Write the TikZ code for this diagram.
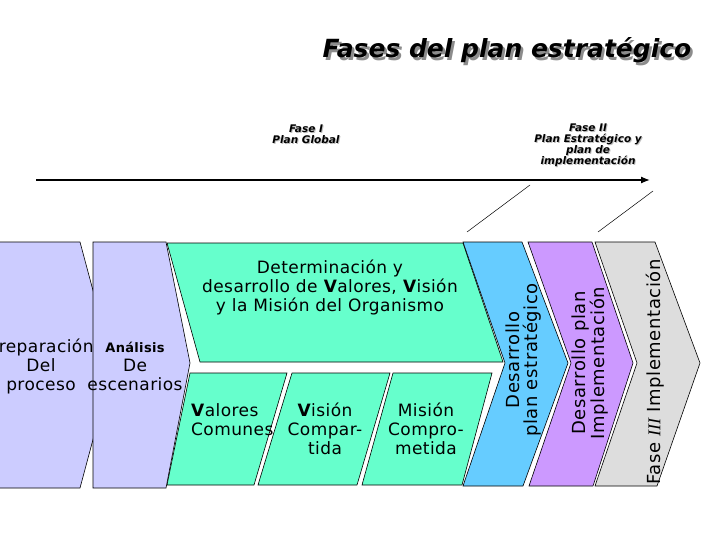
\documentclass[tikz,border=0pt]{standalone}
\usepackage{fontspec}
\setmainfont{DejaVu Sans}
\newfontfamily\romit{Liberation Serif}
\usetikzlibrary{arrows.meta}
\newcommand{\txt}       {\fontsize{17}{19}\selectfont\addfontfeatures{LetterSpace=2.5}}
\newcommand{\txtvert}   {\fontsize{18}{18}\selectfont\addfontfeatures{LetterSpace=3}}
\newcommand{\txtfase}   {\fontsize{10.5}{11}\selectfont\bfseries\itshape}
\newcommand{\txttit}    {\fontsize{25}{25}\selectfont\bfseries\itshape}
\definecolor{lila}{HTML}{CCCCFF}
\definecolor{verde}{HTML}{66FFCC}
\definecolor{azul}{HTML}{66CCFF}
\definecolor{morado}{HTML}{CC99FF}
\definecolor{gris}{HTML}{DDDDDD}

\begin{document}
\begin{tikzpicture}[x=1pt,y=-1pt,
   forma/.style={draw=black,line width=0.6pt},
   texto/.style={font=\txt,align=center,inner sep=0pt},
   vertical/.style={font=\txtvert,align=center,inner sep=0pt,rotate=90},
   fase/.style={font=\txtfase,align=center,inner sep=0pt}]
   \useasboundingbox (0,0) rectangle (720,540);
   \clip (0,0) rectangle (720,540);
   \fill[white] (0,0) rectangle (720,540);
   \node[font=\txttit,text=black!45,anchor=base] at (509.5,60.5) {Fases del plan estratégico};
   \node (titulo) [font=\txttit,anchor=base] at (507,58) {Fases del plan estratégico};
   \node[fase,anchor=north,text=black!25] at (307,126) {Fase I\\Plan Global};
   \node (fase1) [fase,anchor=north] at (306,125) {Fase I\\Plan Global};
   \node[fase,anchor=north,text=black!25] at (589,125) {Fase II\\Plan Estratégico y\\plan de\\implementación};
   \node (fase2) [fase,anchor=north] at (588,124) {Fase II\\Plan Estratégico y\\plan de\\implementación};
   \coordinate (ini) at (36,180);
   \coordinate (medio) at (445,180);
   \coordinate (fin) at (650,180);
   \draw[line width=2pt] (ini) -- (medio);
   \draw[line width=1.3pt,-{Latex[length=9pt,width=7pt]}] (medio) -- (fin);
   \draw[line width=0.5pt] (467,232) -- (530,185);
   \draw[line width=0.5pt] (598,232) -- (653,191);
   \filldraw[forma,fill=verde] (167,243) -- (463,243) -- (503,362) -- (200,362) -- cycle;
   \filldraw[forma,fill=verde] (190,373) -- (287,373) -- (254,485) -- (167,485) -- cycle;
   \filldraw[forma,fill=verde] (292,373) -- (390,373) -- (357,485) -- (258,485) -- cycle;
   \filldraw[forma,fill=verde] (393,373) -- (492,373) -- (462,485) -- (362,485) -- cycle;
   \filldraw[forma,fill=lila] (-40,242) -- (80,242) -- (113,365) -- (80,488) -- (-40,488) -- cycle;
   \filldraw[forma,fill=lila] (93,242) -- (166,242) -- (190,363) -- (166,488) -- (93,488) -- cycle;
   \filldraw[forma,fill=azul] (463,242) -- (522,242) -- (568,363) -- (523,486) -- (463,486) -- (505,363) -- cycle;
   \filldraw[forma,fill=morado] (528,242) -- (592,242) -- (633,363) -- (593,486) -- (529,486) -- (571,363) -- cycle;
   \filldraw[forma,fill=gris] (595,242) -- (655,242) -- (700,363) -- (657,486) -- (595,486) -- (637,363) -- cycle;
   \node (prep) [texto] at (41,366) {Preparación\\Del\\proceso};
   \node (anal) [texto] at (135,366) {{\fontsize{13}{19}\selectfont\bfseries Análisis}\\De\\escenarios};
   \node (determ) [texto] at (330,287) {Determinación y\\desarrollo de \textbf{V}alores, \textbf{V}isión\\y la Misión del Organismo};
   \node (valores) [texto,align=left,anchor=north west] at (191,403) {\textbf{V}alores\\Comunes};
   \node (vision) [texto,anchor=north] at (325,403) {\textbf{V}isión\\Compar-\\tida};
   \node (mision) [texto,anchor=north] at (426,403) {Misión\\Compro-\\metida};
   \node (desest) [vertical] at (524,360) {Desarrollo\\plan estratégico};
   \node (desimp) [vertical] at (590,363) {Desarrollo plan\\Implementación};
   \node (fase3) [vertical] at (655,372) {Fase {\romit\itshape III} Implementación};
\end{tikzpicture}
\end{document}
